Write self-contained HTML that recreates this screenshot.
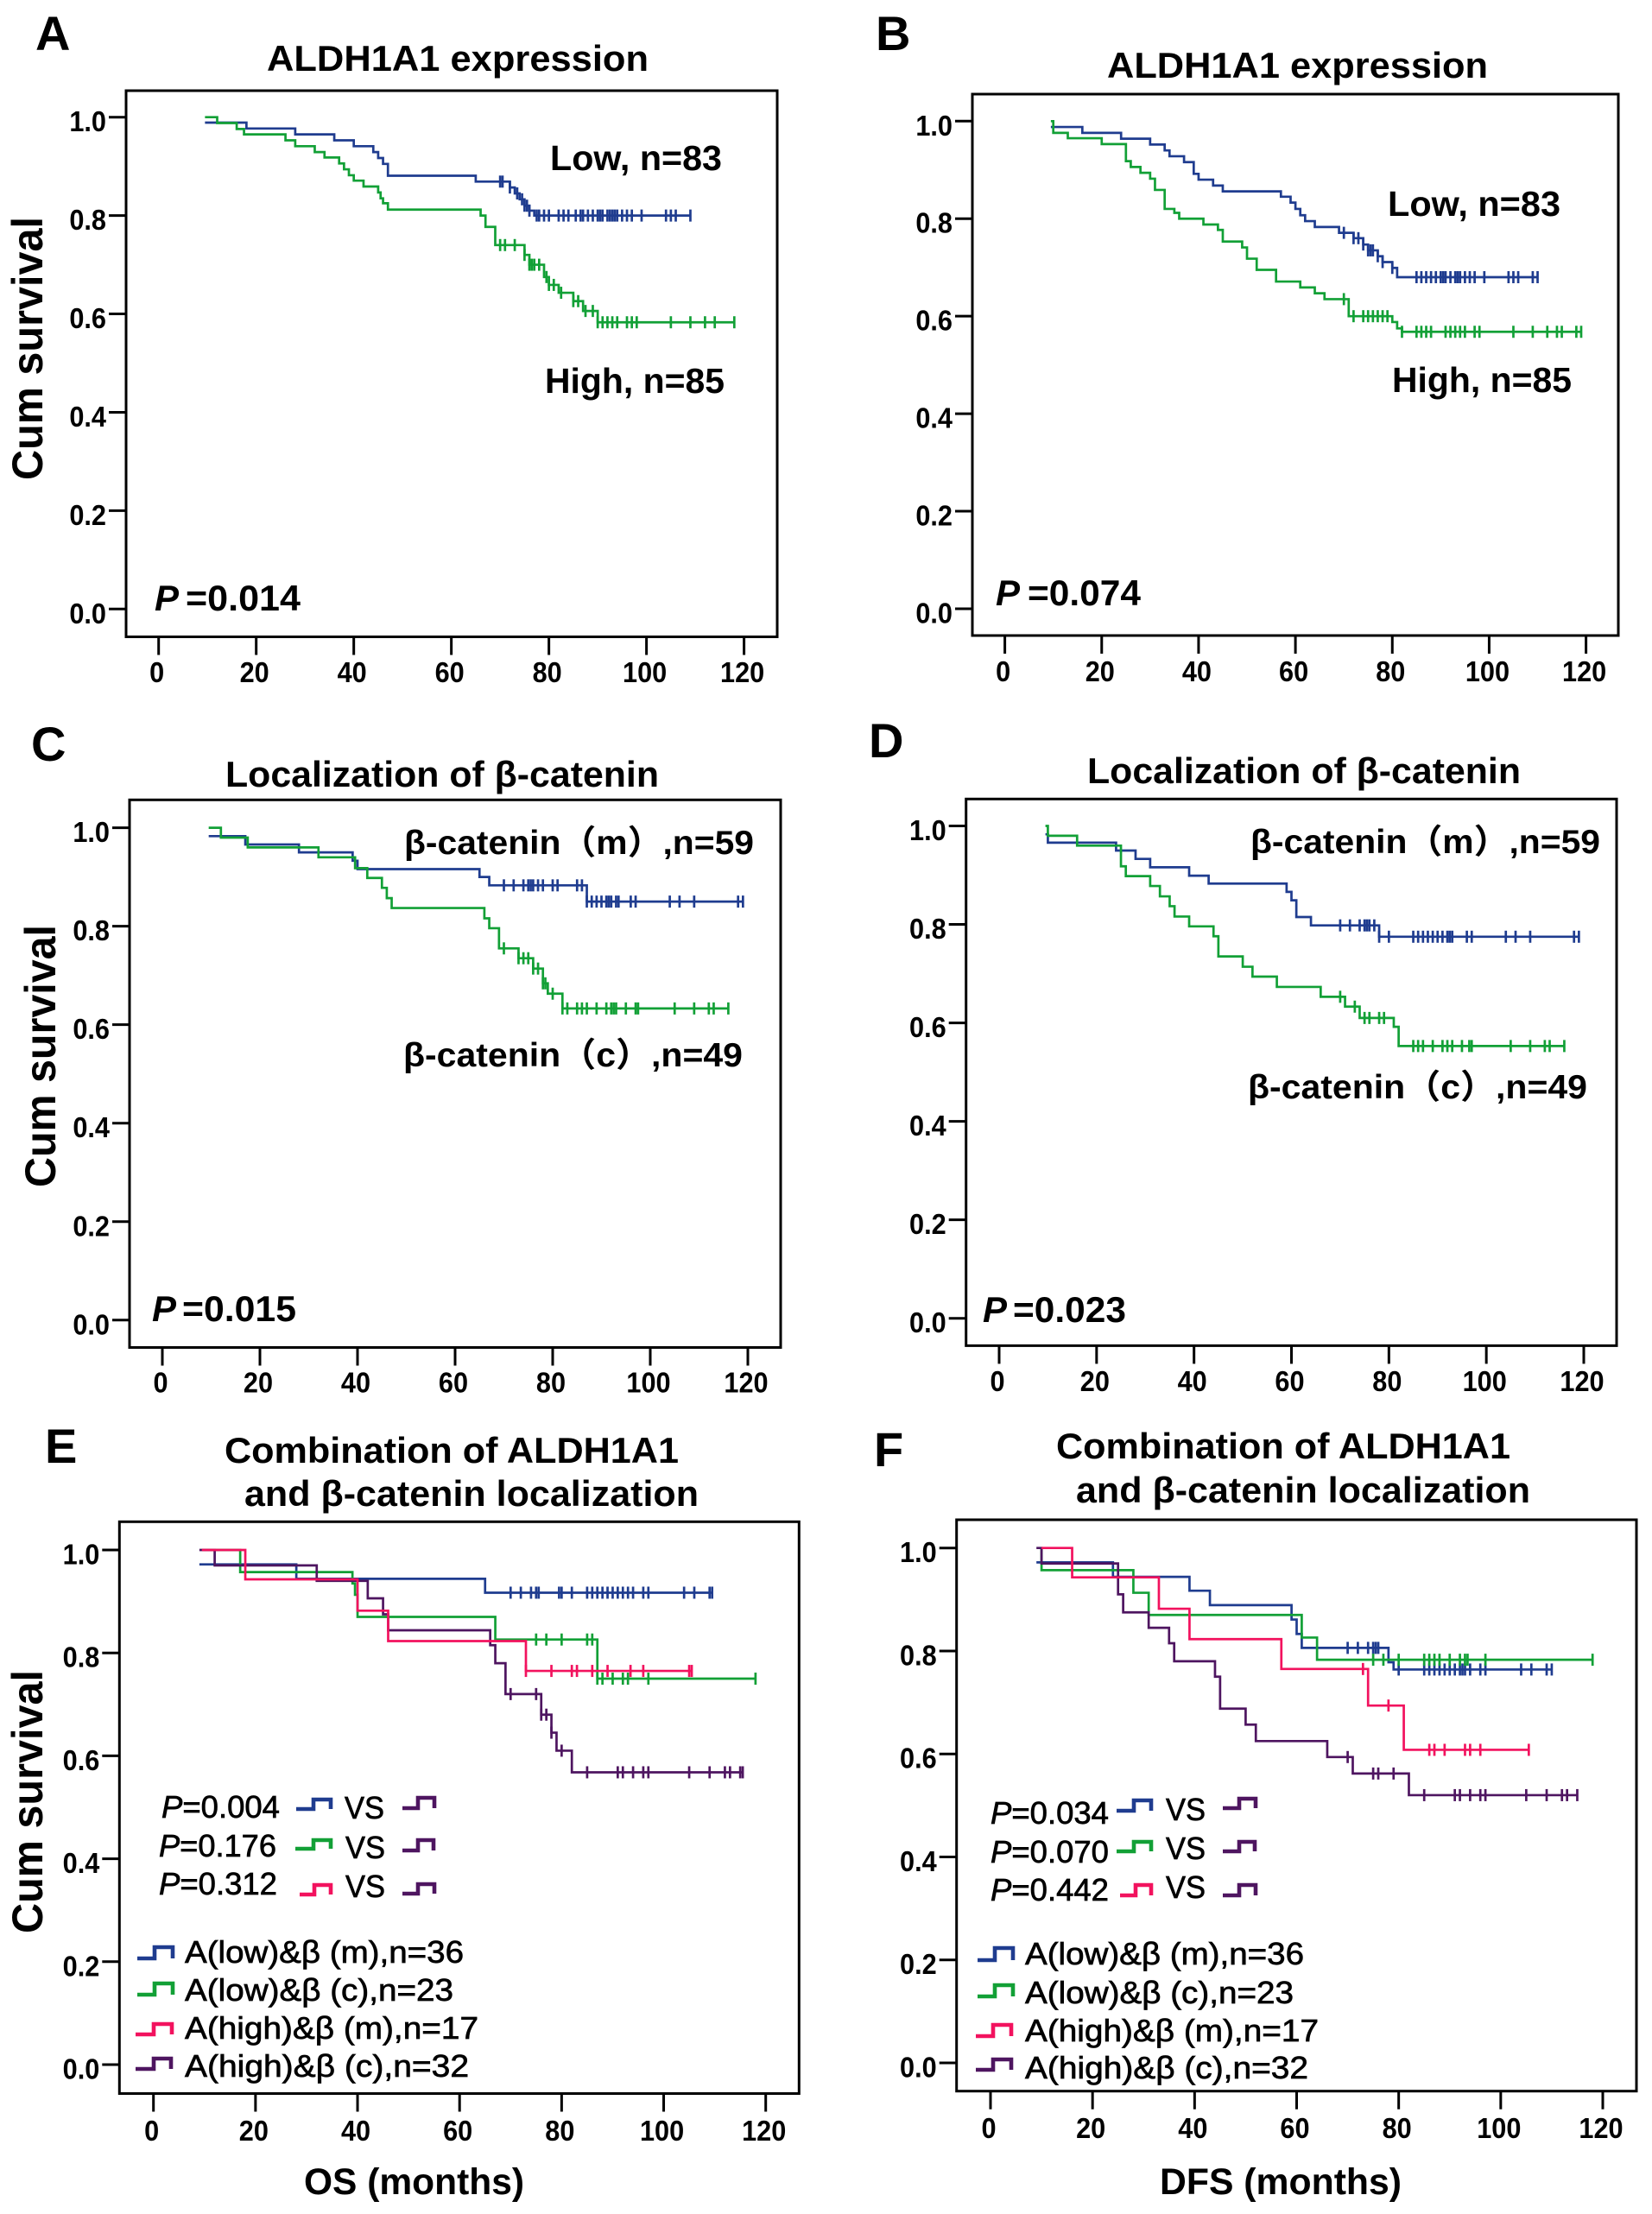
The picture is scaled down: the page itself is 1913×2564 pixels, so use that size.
<!DOCTYPE html>
<html lang="en">
<head>
<meta charset="utf-8">
<title>Kaplan-Meier survival curves</title>
<style>
html,body{margin:0;padding:0;background:#fff;}
svg{display:block;}
text{font-family:"Liberation Sans","Noto Sans CJK SC",sans-serif;font-weight:bold;fill:#000;}
.let{font-size:56px;}
.ttl{font-size:42px;}
.lab{font-size:41px;}
.cat{font-size:39px;}
.cum{font-size:50px;}
.pv{font-size:42px;}
.tick{font-size:33px;}
.reg{font-weight:normal;font-size:36px;stroke:#000;stroke-width:.7px;}
.ax{font-size:43px;}
.ico{fill:none;stroke-width:4.6;}
</style>
</head>
<body>
<svg id="fig" xmlns="http://www.w3.org/2000/svg" width="1913" height="2564" viewBox="0 0 1913 2564">
<rect x="0" y="0" width="1913" height="2564" fill="#fff"/>

<!-- Panel A -->
<text class="let" x="41" y="58">A</text>
<text class="ttl" x="309" y="82" textLength="442" lengthAdjust="spacingAndGlyphs">ALDH1A1 expression</text>
<text class="lab" x="637" y="197" textLength="199" lengthAdjust="spacingAndGlyphs">Low, n=83</text>
<text class="lab" x="631" y="455" textLength="208" lengthAdjust="spacingAndGlyphs">High, n=85</text>
<text class="pv" x="179" y="707" font-style="italic">P</text>
<text class="pv" x="215" y="707" textLength="133" lengthAdjust="spacingAndGlyphs">=0.014</text>
<text class="cum" transform="translate(49,556) rotate(-90)" textLength="305" lengthAdjust="spacingAndGlyphs">Cum survival</text>

<!-- Panel B -->
<text class="let" x="1014" y="58">B</text>
<text class="ttl" x="1282" y="90" textLength="441" lengthAdjust="spacingAndGlyphs">ALDH1A1 expression</text>
<text class="lab" x="1607" y="250" textLength="200" lengthAdjust="spacingAndGlyphs">Low, n=83</text>
<text class="lab" x="1612" y="454" textLength="208" lengthAdjust="spacingAndGlyphs">High, n=85</text>
<text class="pv" x="1153" y="701" font-style="italic">P</text>
<text class="pv" x="1190" y="701" textLength="131" lengthAdjust="spacingAndGlyphs">=0.074</text>

<!-- Panel C -->
<text class="let" x="36" y="881">C</text>
<text class="ttl" x="261" y="911" textLength="502" lengthAdjust="spacingAndGlyphs">Localization of β-catenin</text>
<text class="cat" x="468" y="989" textLength="405" lengthAdjust="spacingAndGlyphs">β-catenin（m）,n=59</text>
<text class="cat" x="467" y="1235" textLength="393" lengthAdjust="spacingAndGlyphs">β-catenin（c）,n=49</text>
<text class="pv" x="176" y="1530" font-style="italic">P</text>
<text class="pv" x="211" y="1530" textLength="132" lengthAdjust="spacingAndGlyphs">=0.015</text>
<text class="cum" transform="translate(64,1375) rotate(-90)" textLength="304" lengthAdjust="spacingAndGlyphs">Cum survival</text>

<!-- Panel D -->
<text class="let" x="1006" y="877">D</text>
<text class="ttl" x="1259" y="907" textLength="502" lengthAdjust="spacingAndGlyphs">Localization of β-catenin</text>
<text class="cat" x="1448" y="988" textLength="405" lengthAdjust="spacingAndGlyphs">β-catenin（m）,n=59</text>
<text class="cat" x="1445" y="1272" textLength="393" lengthAdjust="spacingAndGlyphs">β-catenin（c）,n=49</text>
<text class="pv" x="1138" y="1531" font-style="italic">P</text>
<text class="pv" x="1173" y="1531" textLength="131" lengthAdjust="spacingAndGlyphs">=0.023</text>

<!-- Panel E -->
<text class="let" x="52" y="1694">E</text>
<text class="ttl" x="260" y="1694" textLength="526" lengthAdjust="spacingAndGlyphs">Combination of ALDH1A1</text>
<text class="ttl" x="283" y="1744" textLength="526" lengthAdjust="spacingAndGlyphs">and β-catenin localization</text>
<text class="cum" transform="translate(49,2239) rotate(-90)" textLength="305" lengthAdjust="spacingAndGlyphs">Cum survival</text>
<text class="reg" x="187" y="2105" textLength="137" lengthAdjust="spacingAndGlyphs"><tspan font-style="italic">P</tspan>=0.004</text>
<text class="reg" x="184" y="2150" textLength="136" lengthAdjust="spacingAndGlyphs"><tspan font-style="italic">P</tspan>=0.176</text>
<text class="reg" x="184" y="2194" textLength="137" lengthAdjust="spacingAndGlyphs"><tspan font-style="italic">P</tspan>=0.312</text>
<text class="reg" x="399" y="2106" textLength="46" lengthAdjust="spacingAndGlyphs">VS</text>
<text class="reg" x="400" y="2152" textLength="46" lengthAdjust="spacingAndGlyphs">VS</text>
<text class="reg" x="400" y="2197" textLength="46" lengthAdjust="spacingAndGlyphs">VS</text>
<path class="ico" stroke="#1f3c8f" d="M343 2095H363V2084H383V2095"/>
<path class="ico" stroke="#12a036" d="M342 2141H363V2131H383V2141"/>
<path class="ico" stroke="#f2125e" d="M347 2194H364V2183H383V2194"/>
<path class="ico" stroke="#4e1560" d="M466 2094H484V2082H503V2094"/>
<path class="ico" stroke="#4e1560" d="M466 2143H484V2131H502V2143"/>
<path class="ico" stroke="#4e1560" d="M466 2193H484V2182H503V2193"/>
<path class="ico" stroke="#1f3c8f" d="M159 2268H179V2255H200V2268"/>
<path class="ico" stroke="#12a036" d="M159 2310H179V2297H200V2310"/>
<path class="ico" stroke="#f2125e" d="M157 2356H178V2344H199V2356"/>
<path class="ico" stroke="#4e1560" d="M157 2396H178V2384H198V2396"/>
<text class="reg" x="214" y="2273" textLength="323" lengthAdjust="spacingAndGlyphs">A(low)&amp;β (m),n=36</text>
<text class="reg" x="214" y="2317" textLength="311" lengthAdjust="spacingAndGlyphs">A(low)&amp;β (c),n=23</text>
<text class="reg" x="214" y="2361" textLength="340" lengthAdjust="spacingAndGlyphs">A(high)&amp;β (m),n=17</text>
<text class="reg" x="214" y="2405" textLength="329" lengthAdjust="spacingAndGlyphs">A(high)&amp;β (c),n=32</text>
<text class="ax" x="352" y="2541" textLength="255" lengthAdjust="spacingAndGlyphs">OS (months)</text>

<!-- Panel F -->
<text class="let" x="1012" y="1698">F</text>
<text class="ttl" x="1223" y="1689" textLength="526" lengthAdjust="spacingAndGlyphs">Combination of ALDH1A1</text>
<text class="ttl" x="1246" y="1740" textLength="526" lengthAdjust="spacingAndGlyphs">and β-catenin localization</text>
<text class="reg" x="1147" y="2112" textLength="137" lengthAdjust="spacingAndGlyphs"><tspan font-style="italic">P</tspan>=0.034</text>
<text class="reg" x="1147" y="2157" textLength="137" lengthAdjust="spacingAndGlyphs"><tspan font-style="italic">P</tspan>=0.070</text>
<text class="reg" x="1147" y="2201" textLength="137" lengthAdjust="spacingAndGlyphs"><tspan font-style="italic">P</tspan>=0.442</text>
<text class="reg" x="1350" y="2108" textLength="46" lengthAdjust="spacingAndGlyphs">VS</text>
<text class="reg" x="1350" y="2153" textLength="46" lengthAdjust="spacingAndGlyphs">VS</text>
<text class="reg" x="1350" y="2198" textLength="46" lengthAdjust="spacingAndGlyphs">VS</text>
<path class="ico" stroke="#1f3c8f" d="M1293 2097H1313V2085H1333V2097"/>
<path class="ico" stroke="#12a036" d="M1293 2144H1313V2133H1333V2144"/>
<path class="ico" stroke="#f2125e" d="M1297 2195H1315V2183H1333V2195"/>
<path class="ico" stroke="#4e1560" d="M1416 2094H1435V2083H1454V2094"/>
<path class="ico" stroke="#4e1560" d="M1416 2144H1435V2133H1453V2144"/>
<path class="ico" stroke="#4e1560" d="M1416 2195H1435V2183H1454V2195"/>
<path class="ico" stroke="#1f3c8f" d="M1132 2270H1152V2256H1173V2270"/>
<path class="ico" stroke="#12a036" d="M1132 2312H1152V2299H1173V2312"/>
<path class="ico" stroke="#f2125e" d="M1130 2358H1150V2345H1171V2358"/>
<path class="ico" stroke="#4e1560" d="M1130 2397H1150V2385H1171V2397"/>
<text class="reg" x="1187" y="2275" textLength="323" lengthAdjust="spacingAndGlyphs">A(low)&amp;β (m),n=36</text>
<text class="reg" x="1187" y="2320" textLength="311" lengthAdjust="spacingAndGlyphs">A(low)&amp;β (c),n=23</text>
<text class="reg" x="1187" y="2364" textLength="340" lengthAdjust="spacingAndGlyphs">A(high)&amp;β (m),n=17</text>
<text class="reg" x="1187" y="2407" textLength="328" lengthAdjust="spacingAndGlyphs">A(high)&amp;β (c),n=32</text>
<text class="ax" x="1343" y="2541" textLength="280" lengthAdjust="spacingAndGlyphs">DFS (months)</text>
</svg>

<script>
// Axis tick values shared by all panels
const xTickValues = [0, 20, 40, 60, 80, 100, 120];
const yTickValues = [0, 0.2, 0.4, 0.6, 0.8, 1.0];

// Panel A
const aLowTimes = [9.5, 18, 28, 36, 40, 44, 45, 46, 47, 65, 72, 73, 74, 75, 76, 77];
const aLowSurv = [0.989, 0.977, 0.965, 0.953, 0.941, 0.929, 0.917, 0.905, 0.881, 0.869, 0.857, 0.845, 0.833, 0.82, 0.81, 0.80];
const aLowCensored = [70, 70.5, 72, 73.5, 74.5, 75, 75.5, 76, 77.5, 78, 79, 80, 82, 83, 84, 85.5, 86.5, 87, 88, 89, 90, 90.5, 91, 92, 92.5, 93, 93.5, 94, 95, 96, 97, 99, 104, 105, 106, 109];
const aHighTimes = [9.5, 12, 16, 17.5, 26, 28, 32, 34, 37, 38, 39, 40, 42, 45, 45.5, 46, 47, 66, 67, 69, 75, 76, 79, 80, 82, 85, 87, 90];
const aHighSurv = [1, 0.988, 0.976, 0.965, 0.953, 0.941, 0.929, 0.918, 0.906, 0.894, 0.882, 0.871, 0.859, 0.847, 0.835, 0.825, 0.812, 0.80, 0.777, 0.74, 0.72, 0.70, 0.675, 0.659, 0.643, 0.626, 0.606, 0.583];
const aHighCensored = [70, 71, 73, 75, 76, 76.5, 77, 78, 79.5, 80, 81, 82.5, 85, 86, 87.5, 89, 90, 91, 92, 93, 94, 96, 97, 98, 105, 109, 112, 114, 118];

// Panel B
const bLowTimes = [9.5, 16, 24, 30, 33, 34, 37, 39, 40, 43, 45, 57, 59, 60, 61, 62, 64, 69, 72, 74, 75, 77, 78, 80, 81];
const bLowSurv = [0.988, 0.976, 0.964, 0.952, 0.94, 0.928, 0.916, 0.892, 0.88, 0.868, 0.856, 0.845, 0.833, 0.82, 0.807, 0.795, 0.783, 0.771, 0.76, 0.747, 0.735, 0.723, 0.711, 0.699, 0.68];
const bLowCensored = [70, 72, 73, 74, 75, 75.5, 76, 77, 78, 80, 85, 86, 87, 88, 89, 90, 90.5, 91, 92, 93, 93.5, 94, 95, 96, 97, 99, 104, 105, 106, 109, 110];
const bHighTimes = [9.5, 10, 13, 20, 25, 26, 28, 30, 31, 33, 35, 36, 41, 44, 45, 49, 50, 52, 56, 61, 64, 66, 71, 80, 81, 82];
const bHighSurv = [1, 0.976, 0.965, 0.953, 0.918, 0.906, 0.894, 0.882, 0.859, 0.82, 0.812, 0.80, 0.788, 0.777, 0.753, 0.741, 0.718, 0.695, 0.671, 0.659, 0.647, 0.635, 0.60, 0.588, 0.575, 0.568];
const bHighCensored = [70, 72, 74, 75, 76, 77, 78, 79, 82, 85, 86, 87, 88, 91, 92, 93, 94, 95, 97, 98, 105, 109, 112, 114, 115, 118, 119];

// Panel C
const cLowTimes = [9.5, 17, 28, 39, 40, 65, 67, 87];
const cLowSurv = [0.983, 0.966, 0.95, 0.933, 0.916, 0.90, 0.883, 0.85];
const cLowCensored = [70, 72, 74, 75, 75.5, 76, 77, 78, 80, 81, 85, 86, 87, 88, 89, 90, 91, 91.5, 92, 93, 93.5, 96, 97, 104, 106, 109, 118, 119];
const cHighTimes = [9.5, 12, 17.5, 32, 39.5, 42, 45, 46, 47, 66, 67, 69, 73, 76, 78, 79, 82];
const cHighSurv = [1, 0.98, 0.96, 0.94, 0.918, 0.898, 0.878, 0.857, 0.837, 0.816, 0.796, 0.755, 0.735, 0.714, 0.684, 0.663, 0.633];
const cHighCensored = [70, 73, 74, 75, 76, 77, 78, 78.5, 80, 82, 83, 85, 86, 87, 89, 91, 92, 92.5, 93, 95, 97, 97.5, 105, 109, 112, 113, 116];

// Panel D
const dLowTimes = [9.5, 10, 24, 28, 31, 39, 43, 59, 60, 61, 64, 78];
const dLowSurv = [0.983, 0.966, 0.95, 0.933, 0.916, 0.899, 0.883, 0.866, 0.849, 0.815, 0.798, 0.775];
const dLowCensored = [70, 72, 74, 75, 75.5, 76, 77, 78, 80, 85, 86, 87, 88, 89, 90, 91, 92, 92.5, 93, 96, 97, 104, 106, 109, 118, 119];
const dHighTimes = [9.5, 10, 16, 25, 26, 31, 33, 35, 36, 39, 44, 45, 50, 52, 57, 66, 71, 74, 81, 82];
const dHighSurv = [1, 0.98, 0.96, 0.918, 0.898, 0.878, 0.857, 0.837, 0.816, 0.796, 0.776, 0.735, 0.714, 0.694, 0.673, 0.653, 0.633, 0.61, 0.592, 0.553];
const dHighCensored = [70, 73, 75, 76, 78, 79, 85, 86, 87, 89, 91, 92, 93, 95, 96.5, 97, 105, 109, 112, 113, 116];

// Panel E
const eLowMTimes = [9, 28, 65];
const eLowMSurv = [0.972, 0.944, 0.917];
const eLowMCensored = [70, 72, 74, 75, 75.5, 79.5, 80, 82, 85, 86, 87, 88, 89, 90, 91, 92, 93, 94, 96, 97, 104, 106, 109, 109.5];
const eLowCTimes = [9.5, 17, 39, 39.5, 40, 67, 87];
const eLowCSurv = [1, 0.957, 0.935, 0.913, 0.87, 0.826, 0.75];
const eLowCCensored = [75, 77, 80, 85, 86, 87, 88, 90, 92, 93, 97, 118];
const eHighMTimes = [9.5, 18, 40, 46, 73];
const eHighMSurv = [1, 0.943, 0.882, 0.823, 0.765];
const eHighMCensored = [73, 78, 82, 83, 86, 89, 93.5, 96, 105, 105.5];
const eHighCTimes = [9, 12, 32, 42, 45, 46, 66, 67, 69, 76, 78, 79, 82];
const eHighCSurv = [1, 0.97, 0.94, 0.906, 0.875, 0.844, 0.815, 0.78, 0.72, 0.68, 0.645, 0.61, 0.568];
const eHighCCensored = [70, 75, 76, 77, 78, 80, 85, 91, 92, 94, 96, 97, 105, 109, 112, 113, 115, 115.5];

// Panel F
const fLowMTimes = [9, 24, 39, 43, 59, 60, 61, 78, 79];
const fLowMSurv = [0.972, 0.944, 0.917, 0.889, 0.861, 0.833, 0.806, 0.778, 0.764];
const fLowMCensored = [70, 72, 74, 75, 75.5, 76, 80, 85, 86, 87, 88, 89, 90, 91, 92, 92.5, 93, 94, 96, 97, 104, 106, 109, 110];
const fLowCTimes = [10, 10, 28, 31, 61, 64];
const fLowCSurv = [1, 0.957, 0.913, 0.87, 0.826, 0.783];
const fLowCCensored = [75, 77, 80, 85, 86, 87, 88, 90, 92, 93, 93.5, 97, 118];
const fHighMTimes = [10, 16, 33, 39, 57, 74, 81];
const fHighMSurv = [1, 0.943, 0.882, 0.823, 0.765, 0.694, 0.608];
const fHighMCensored = [73, 78, 86, 87, 89, 93, 94, 96, 105.5];
const fHighCTimes = [9, 10, 25, 26, 31, 35, 36, 44, 45, 50, 52, 66, 71, 82];
const fHighCSurv = [1, 0.97, 0.91, 0.875, 0.845, 0.815, 0.78, 0.75, 0.688, 0.657, 0.625, 0.594, 0.562, 0.52];
const fHighCCensored = [70, 75, 76, 79, 85, 91, 92, 94, 96, 97, 105, 109, 112, 113, 115];

const BLUE = '#1f3c8f', GREEN = '#12a036', RED = '#f2125e', PURPLE = '#4e1560';
const NS = 'http://www.w3.org/2000/svg';
const fig = document.getElementById('fig');

function make(tag, geometry) {
  const el = document.createElementNS(NS, tag);
  for (const k in geometry) el.setAttribute(k, geometry[k]);
  fig.appendChild(el);
  return el;
}

function survivalAt(times, surv, t) {
  let s = surv[0];
  for (let i = 0; i < times.length; i++) if (t >= times[i]) s = surv[i];
  return s;
}

// Tick labels in the figure are slightly condensed, so fit each to its width
function tickLabelWidth(str) {
  let em = 0;
  for (const ch of str) em += ch === '.' ? 0.278 : 0.556;
  return em * 33 * 0.93;
}

function drawAxes(id, box) {
  const xScale = v => box.x0 + v * (box.x120 - box.x0) / 120;
  const yScale = v => box.y0 - v * (box.y0 - box.y1);
  const frame = make('rect', {x: box.l, y: box.t, width: box.r - box.l, height: box.b - box.t, fill: 'none', stroke: '#000', 'stroke-width': 3});
  
  
  xTickValues.forEach(v => {
    const tick = make('line', {x1: xScale(v), x2: xScale(v), y1: box.b, y2: box.b + 21, stroke: '#000', 'stroke-width': 3});
    
    
    const str = String(v);
    const label = make('text', {x: xScale(v) - 2, y: box.xl, 'text-anchor': 'middle', class: 'tick', textLength: tickLabelWidth(str), lengthAdjust: 'spacingAndGlyphs'});
    label.textContent = str;
    
    
  });
  yTickValues.forEach(v => {
    const tick = make('line', {x1: box.l - 20, x2: box.l, y1: yScale(v), y2: yScale(v), stroke: '#000', 'stroke-width': 3});
    
    
    const str = v.toFixed(1);
    const label = make('text', {x: box.l - 23, y: yScale(v) + 16.5, 'text-anchor': 'end', class: 'tick', textLength: tickLabelWidth(str), lengthAdjust: 'spacingAndGlyphs'});
    label.textContent = str;
    
    
  });
}

function drawSeries(id, box, seriesName, times, surv, censored, color) {
  const xScale = v => box.x0 + v * (box.x120 - box.x0) / 120;
  const yScale = v => box.y0 - v * (box.y0 - box.y1);
  let d = 'M' + xScale(times[0]) + ' ' + yScale(surv[0]);
  for (let i = 1; i < times.length; i++) {
    d += 'H' + xScale(times[i]) + 'V' + yScale(surv[i]);
  }
  const endT = Math.max(times[times.length - 1], censored[censored.length - 1]);
  d += 'H' + xScale(endT);
  const line = make('path', {d: d, fill: 'none', stroke: color, 'stroke-width': 2.7});
  
  
  censored.forEach((t, i) => {
    const cy = yScale(survivalAt(times, surv, t));
    const mark = make('line', {x1: xScale(t), x2: xScale(t), y1: cy - 7, y2: cy + 7, stroke: color, 'stroke-width': 2.7});
    
    
  });
}

const boxA = {l: 146, r: 900, t: 105, b: 737.5, x0: 183.7, x120: 861.6, y0: 705.3, y1: 135.7, xl: 790};
const boxB = {l: 1126, r: 1874, t: 109, b: 736, x0: 1163.6, x120: 1836.6, y0: 705, y1: 140.3, xl: 789};
const boxC = {l: 150, r: 904, t: 926.3, b: 1560.5, x0: 188, x120: 866, y0: 1528.8, y1: 958.6, xl: 1612.4};
const boxD = {l: 1118.7, r: 1872, t: 925.3, b: 1558.4, x0: 1157, x120: 1834, y0: 1526.7, y1: 956.5, xl: 1610.8};
const boxE = {l: 138.3, r: 925.3, t: 1762.3, b: 2424.5, x0: 177.7, x120: 886.7, y0: 2391, y1: 1795, xl: 2479};
const boxF = {l: 1107.7, r: 1895, t: 1760, b: 2421.7, x0: 1147, x120: 1856, y0: 2389, y1: 1792.7, xl: 2476};

drawAxes('a', boxA);
drawSeries('a', boxA, 'low', aLowTimes, aLowSurv, aLowCensored, BLUE);
drawSeries('a', boxA, 'high', aHighTimes, aHighSurv, aHighCensored, GREEN);

drawAxes('b', boxB);
drawSeries('b', boxB, 'low', bLowTimes, bLowSurv, bLowCensored, BLUE);
drawSeries('b', boxB, 'high', bHighTimes, bHighSurv, bHighCensored, GREEN);

drawAxes('c', boxC);
drawSeries('c', boxC, 'membrane', cLowTimes, cLowSurv, cLowCensored, BLUE);
drawSeries('c', boxC, 'cytoplasm', cHighTimes, cHighSurv, cHighCensored, GREEN);

drawAxes('d', boxD);
drawSeries('d', boxD, 'membrane', dLowTimes, dLowSurv, dLowCensored, BLUE);
drawSeries('d', boxD, 'cytoplasm', dHighTimes, dHighSurv, dHighCensored, GREEN);

drawAxes('e', boxE);
drawSeries('e', boxE, 'low-m', eLowMTimes, eLowMSurv, eLowMCensored, BLUE);
drawSeries('e', boxE, 'low-c', eLowCTimes, eLowCSurv, eLowCCensored, GREEN);
drawSeries('e', boxE, 'high-c', eHighCTimes, eHighCSurv, eHighCCensored, PURPLE);
drawSeries('e', boxE, 'high-m', eHighMTimes, eHighMSurv, eHighMCensored, RED);

drawAxes('f', boxF);
drawSeries('f', boxF, 'low-m', fLowMTimes, fLowMSurv, fLowMCensored, BLUE);
drawSeries('f', boxF, 'low-c', fLowCTimes, fLowCSurv, fLowCCensored, GREEN);
drawSeries('f', boxF, 'high-c', fHighCTimes, fHighCSurv, fHighCCensored, PURPLE);
drawSeries('f', boxF, 'high-m', fHighMTimes, fHighMSurv, fHighMCensored, RED);
</script>
</body>
</html>
